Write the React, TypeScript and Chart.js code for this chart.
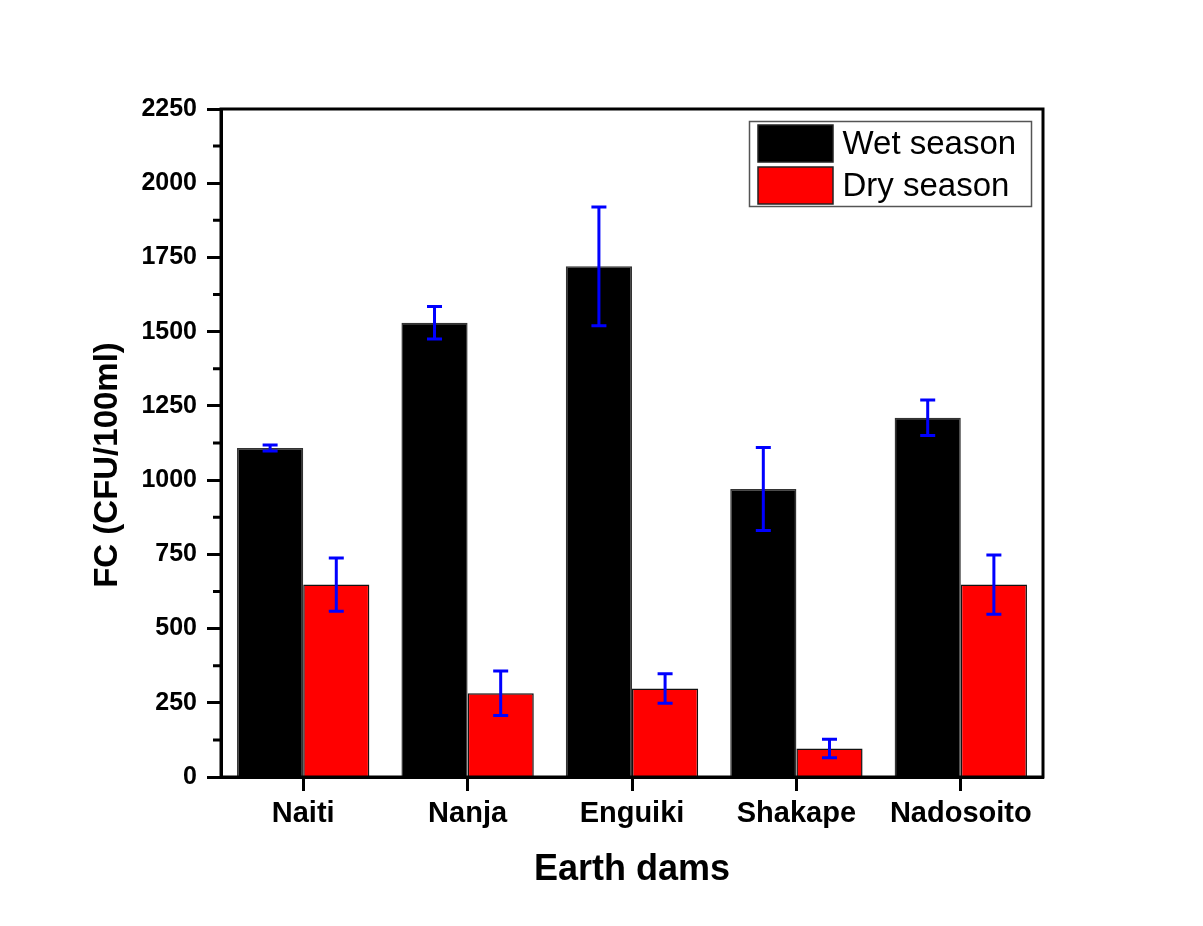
import React, { useEffect, useRef } from "react";
import { Chart, registerables } from "chart.js";

Chart.register(...registerables);

const categories = ["Naiti", "Nanja", "Enguiki", "Shakape", "Nadosoito"];
const wetSeason = [1108, 1530, 1720, 970, 1210];
const wetSeasonErr = [10, 55, 200, 140, 60];
const drySeason = [648, 282, 298, 96, 648];
const drySeasonErr = [90, 75, 50, 31, 100];
const yTickStep = 250;
const yMax = 2250;

const FONT = '"Liberation Sans", Arial, sans-serif';
const errorSets = [wetSeasonErr, drySeasonErr];

// Blue whiskers with caps, one per bar, drawn from the value and its error.
const errorBarPlugin = {
  id: "errorBars",
  afterDatasetsDraw(chart: any) {
    const ctx = chart.ctx;
    const y = chart.scales.y;
    chart.data.datasets.forEach((ds: any, di: number) => {
      const meta = chart.getDatasetMeta(di);
      const errs = errorSets[di];
      meta.data.forEach((bar: any, i: number) => {
        const v = ds.data[i];
        const e = errs[i];
        const yt = y.getPixelForValue(v + e);
        const yb = y.getPixelForValue(v - e);
        const x = bar.x;
        const cap = 7.5;
        ctx.save();
        ctx.strokeStyle = "#0000ff";
        ctx.lineWidth = 3;
        ctx.beginPath();
        ctx.moveTo(x, yt);
        ctx.lineTo(x, yb);
        ctx.moveTo(x - cap, yt);
        ctx.lineTo(x + cap, yt);
        ctx.moveTo(x - cap, yb);
        ctx.lineTo(x + cap, yb);
        ctx.stroke();
        ctx.restore();
      });
    });
  },
};

// Box frame, minor ticks on the value axis, rotated axis title and the legend.
const framePlugin = {
  id: "frame",
  afterDraw(chart: any) {
    const ctx = chart.ctx;
    const { left, right, top, bottom } = chart.chartArea;
    const y = chart.scales.y;
    ctx.save();
    ctx.strokeStyle = "#000";
    ctx.lineWidth = 3;
    ctx.strokeRect(left, top, right - left, bottom - top);

    // minor ticks halfway between labelled ticks
    ctx.beginPath();
    for (let v = yTickStep / 2; v < yMax; v += yTickStep) {
      const py = y.getPixelForValue(v);
      ctx.moveTo(left - 8, py);
      ctx.lineTo(left, py);
    }
    ctx.stroke();

    // value axis title
    ctx.save();
    ctx.translate(108, 465);
    ctx.rotate(-Math.PI / 2);
    ctx.fillStyle = "#000";
    ctx.font = `bold 33px ${FONT}`;
    ctx.textAlign = "center";
    ctx.textBaseline = "middle";
    ctx.fillText("FC (CFU/100ml)", 0, 0);
    ctx.restore();

    // legend box
    const bx = right - 293.5;
    const by = top + 12.5;
    const bw = 282;
    const bh = 85;
    ctx.fillStyle = "#fff";
    ctx.fillRect(bx, by, bw, bh);
    ctx.strokeStyle = "#555";
    ctx.lineWidth = 1.5;
    ctx.strokeRect(bx, by, bw, bh);
    chart.data.datasets.forEach((ds: any, i: number) => {
      const sy = by + 3.5 + i * 42;
      ctx.fillStyle = ds.backgroundColor;
      ctx.fillRect(bx + 8.5, sy, 75, 37);
      ctx.strokeStyle = "#222";
      ctx.lineWidth = 1.5;
      ctx.strokeRect(bx + 8.5, sy, 75, 37);
      ctx.fillStyle = "#000";
      ctx.font = `33px ${FONT}`;
      ctx.textAlign = "left";
      ctx.textBaseline = "middle";
      ctx.fillText(ds.label, bx + 93, sy + 20);
    });
    ctx.restore();
  },
};

export default function App() {
  const canvasRef = useRef<HTMLCanvasElement | null>(null);

  useEffect(() => {
    const canvas = canvasRef.current;
    if (!canvas) return;
    const chart = new Chart(canvas, {
      type: "bar",
      data: {
        labels: categories,
        datasets: [
          {
            label: "Wet season",
            data: wetSeason,
            backgroundColor: "#000000",
            borderColor: "#333333",
            borderWidth: 1.5,
          },
          {
            label: "Dry season",
            data: drySeason,
            backgroundColor: "#ff0000",
            borderColor: "#111111",
            borderWidth: 1.5,
          },
        ],
      },
      options: {
        animation: false,
        responsive: false,
        devicePixelRatio: 1,
        layout: { padding: { top: 109, right: 160, left: 0, bottom: 0 } },
        datasets: {
          bar: { categoryPercentage: 0.805, barPercentage: 1 },
        },
        plugins: {
          legend: { display: false },
          tooltip: { enabled: false },
        },
        scales: {
          x: {
            afterFit: (s: any) => {
              s.height = 149;
            },
            grid: {
              offset: false,
              drawOnChartArea: false,
              drawTicks: true,
              tickLength: 14,
              tickWidth: 3,
              tickColor: "#000",
            },
            border: { display: true, color: "#000", width: 3 },
            ticks: {
              color: "#000",
              padding: 6,
              font: { family: FONT, size: 29, weight: "bold" },
            },
            title: {
              display: true,
              text: "Earth dams",
              color: "#000",
              font: { family: FONT, size: 36, weight: "bold" },
              padding: { top: 0, bottom: 34 },
            },
          },
          y: {
            min: 0,
            max: yMax,
            afterFit: (s: any) => {
              s.width = 221;
            },
            grid: {
              drawOnChartArea: false,
              drawTicks: true,
              tickLength: 14,
              tickWidth: 3,
              tickColor: "#000",
            },
            border: { display: true, color: "#000", width: 3 },
            ticks: {
              stepSize: yTickStep,
              color: "#000",
              padding: 10,
              font: { family: FONT, size: 25, weight: "bold" },
              callback: (v: any) => String(v),
            },
          },
        },
      },
      plugins: [errorBarPlugin, framePlugin],
    });
    return () => chart.destroy();
  }, []);

  return (
    <div
      style={{
        position: "absolute",
        left: 0,
        top: 0,
        width: 1203,
        height: 926,
        background: "#fff",
      }}
    >
      <canvas ref={canvasRef} width={1203} height={926} />
    </div>
  );
}
